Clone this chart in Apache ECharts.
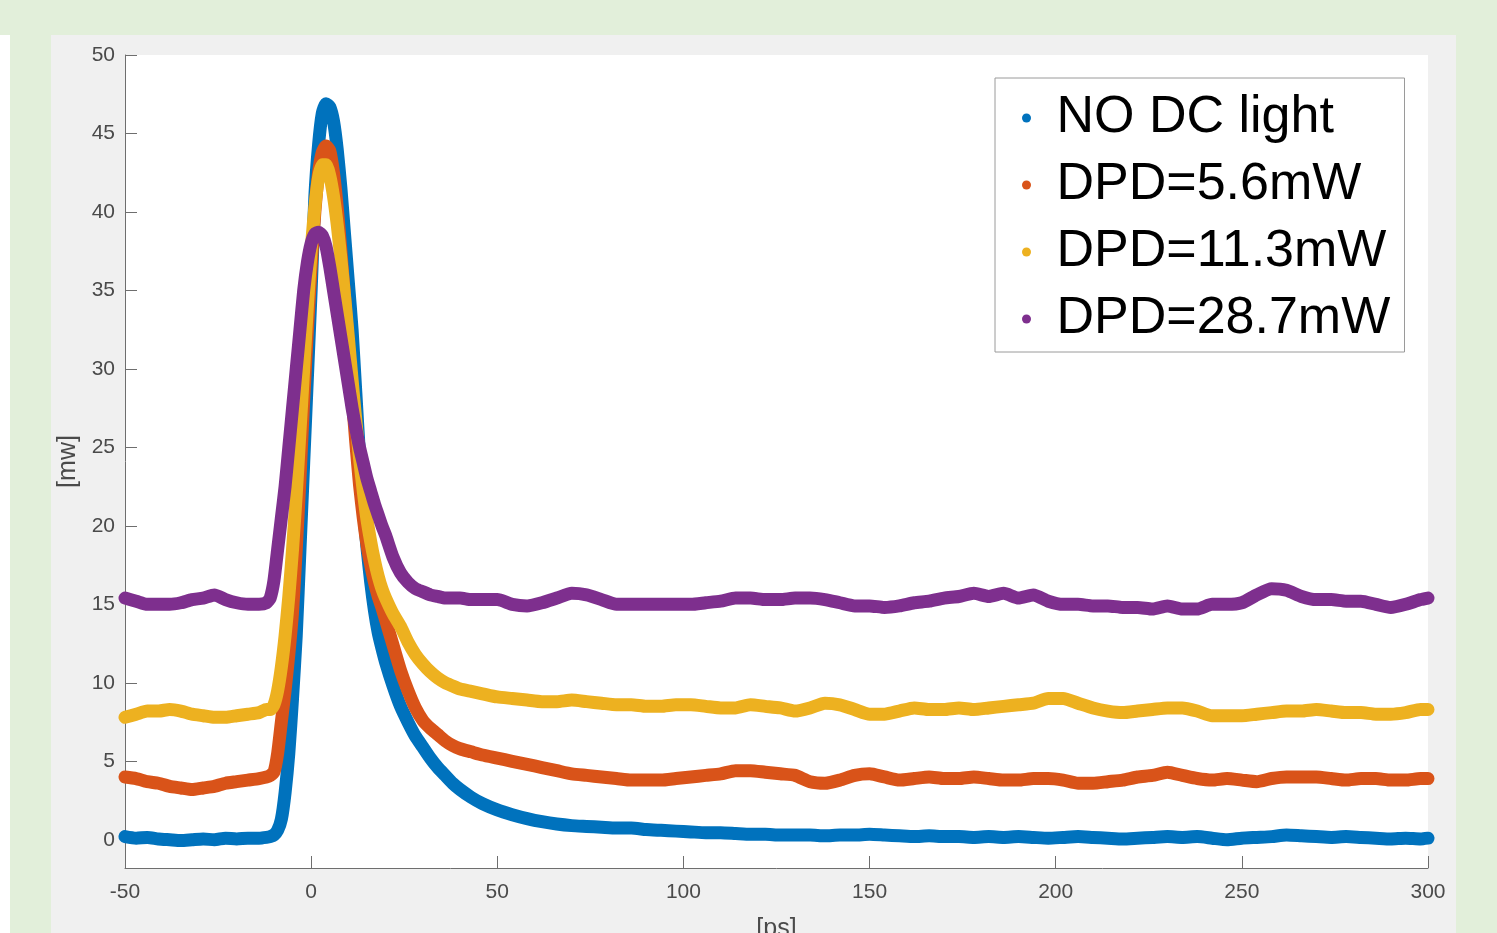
<!DOCTYPE html>
<html>
<head>
<meta charset="utf-8">
<script src="https://cdn.jsdelivr.net/npm/echarts@6/dist/echarts.min.js"></script>
<style>
  html, body { margin: 0; padding: 0; background: #e2efda; }
  #strip { position: absolute; left: 0; top: 35px; width: 10px; height: 898px; background: #ffffff; }
  #panel { position: absolute; left: 51px; top: 35px; width: 1405px; height: 898px; background: #f0f0f0; }
  #chart { position: absolute; left: 0; top: 0; width: 1497px; height: 933px; }
</style>
</head>
<body>
<div id="strip"></div>
<div id="panel"></div>
<div id="chart"></div>
<script>
// Time axis (ps)
const timePs = [
  -50,-47,-44,-41,-38,-35,-32,-29,-26,-23,-20,-17,-14,
  -12,-11,-10,-9,-8,-7,-6,-5,-4,-3,-2,-1,0,1,2,3,4,5,6,7,8,9,10,11,12,13,14,15,16,17,18,19,20,
  22,24,26,28,30,32,34,36,38,40,43,46,
  50,54,58,62,66,70,74,78,82,86,90,94,98,102,106,110,114,118,122,126,130,134,138,142,146,150,
  154,158,162,166,170,174,178,182,186,190,194,198,202,206,210,214,218,222,226,230,234,238,242,246,
  250,254,258,262,266,270,274,278,282,286,290,294,298,300
];

const seriesNames = ['NO DC light', 'DPD=5.6mW', 'DPD=11.3mW', 'DPD=28.7mW'];

// Power (mW)
const noDcLight = [
  0.2,0.1,0.15,0.05,0.0,-0.05,0.0,0.05,0.0,0.1,0.05,0.1,0.1,
  0.15,0.2,0.3,0.6,1.3,3.0,5.5,9.0,13,18.5,24,29.5,35,41,44.3,46.3,46.9,46.7,45.8,44,41.5,38.5,35.5,32.5,28.5,24.5,21.2,18.6,16.4,14.6,13.2,12.2,11.3,
  9.8,8.5,7.5,6.6,5.9,5.2,4.6,4.1,3.6,3.2,2.7,2.3,
  1.9,1.6,1.35,1.15,1.0,0.9,0.85,0.8,0.75,0.75,0.65,0.6,0.55,0.5,0.45,0.45,0.4,0.35,0.35,0.3,0.3,0.3,0.25,0.3,0.3,0.35,
  0.3,0.25,0.2,0.25,0.2,0.2,0.15,0.2,0.15,0.2,0.15,0.1,0.15,0.2,0.15,0.1,0.05,0.1,0.15,0.2,0.15,0.2,0.1,0.0,
  0.1,0.15,0.2,0.3,0.25,0.2,0.15,0.2,0.15,0.1,0.05,0.1,0.05,0.1
];
const dpd56 = [
  4.0,3.9,3.7,3.6,3.4,3.3,3.2,3.3,3.4,3.6,3.7,3.8,3.9,
  4.0,4.1,4.3,5.5,7.5,9.5,11.8,14.5,18.5,23,28,32.5,36.5,40,42.5,43.8,44.2,43.9,42.5,40.3,37.5,34.5,31.5,28.3,25.3,22.6,20.5,18.8,17.5,16.4,15.5,14.8,14.0,
  12.4,10.8,9.5,8.4,7.6,7.1,6.7,6.3,6.0,5.8,5.6,5.4,
  5.2,5.0,4.8,4.6,4.4,4.2,4.1,4.0,3.9,3.8,3.8,3.8,3.9,4.0,4.1,4.2,4.4,4.4,4.3,4.2,4.1,3.7,3.6,3.8,4.1,4.2,
  4.0,3.8,3.9,4.0,3.9,3.9,4.0,3.9,3.8,3.8,3.9,3.9,3.8,3.6,3.6,3.7,3.8,4.0,4.1,4.3,4.1,3.9,3.8,3.9,
  3.8,3.7,3.9,4.0,4.0,4.0,3.9,3.8,3.9,3.9,3.8,3.8,3.9,3.9
];
const dpd113 = [
  7.8,8.0,8.2,8.2,8.3,8.2,8.0,7.9,7.8,7.8,7.9,8.0,8.1,
  8.3,8.3,8.6,9.5,11,13,15.5,18.5,22,26,30,34,37.5,40.3,42.2,43.0,43.0,42.3,41,39.2,37,34.6,32,29.3,26.7,24.3,22.2,20.4,19.0,17.8,16.8,16.0,15.4,
  14.4,13.6,12.6,11.8,11.2,10.7,10.3,10.0,9.8,9.6,9.45,9.3,
  9.1,9.0,8.9,8.8,8.8,8.9,8.8,8.7,8.6,8.6,8.5,8.5,8.6,8.6,8.5,8.4,8.4,8.6,8.5,8.4,8.2,8.4,8.7,8.6,8.3,8.0,
  8.0,8.2,8.4,8.3,8.3,8.4,8.3,8.4,8.5,8.6,8.7,9.0,9.0,8.7,8.4,8.2,8.1,8.2,8.3,8.4,8.4,8.2,7.9,7.9,
  7.9,8.0,8.1,8.2,8.2,8.3,8.2,8.1,8.1,8.0,8.0,8.1,8.3,8.3
];
const dpd287 = [
  15.4,15.2,15.0,15.0,15.0,15.1,15.3,15.4,15.6,15.3,15.1,15.0,15.0,
  15.1,15.4,16.5,18.5,20.5,22.5,25,27.5,30,32.5,35,36.8,38,38.6,38.7,38.5,37.8,36.5,35,33.5,32,30.5,29,27.5,26.2,25,24,23,22.2,21.4,20.7,20,19.4,
  18.0,17.0,16.4,16.0,15.8,15.6,15.5,15.4,15.4,15.4,15.3,15.3,
  15.3,15.0,14.9,15.1,15.4,15.7,15.6,15.3,15.0,15.0,15.0,15.0,15.0,15.0,15.1,15.2,15.4,15.4,15.3,15.3,15.4,15.4,15.3,15.1,14.9,14.9,
  14.8,14.9,15.1,15.2,15.4,15.5,15.7,15.5,15.7,15.4,15.6,15.2,15.0,15.0,14.9,14.9,14.8,14.8,14.7,14.9,14.7,14.7,15.0,15.0,
  15.1,15.6,16.0,15.9,15.5,15.3,15.3,15.2,15.2,15.0,14.8,15.0,15.3,15.4
];

const xTickValues = [-50, 0, 50, 100, 150, 200, 250, 300];
const yTickValues = [0, 5, 10, 15, 20, 25, 30, 35, 40, 45, 50];

const seriesValues = [noDcLight, dpd56, dpd113, dpd287];
const colors = ['#0072BD', '#D95319', '#EDB120', '#7E2F8E'];

const chart = echarts.init(document.getElementById('chart'), null, { renderer: 'canvas' });
const fontFam = '"Liberation Sans", Arial, Helvetica, sans-serif';
const axisColor = '#6e6e6e';
const labelColor = '#4a4a4a';

chart.setOption({
  animation: false,
  backgroundColor: 'transparent',
  textStyle: { fontFamily: fontFam },
  color: colors,
  grid: {
    left: 125, right: 69, top: 55, bottom: 65,
    outerBoundsMode: 'none',
    containLabel: false,
    show: true, backgroundColor: '#ffffff', borderWidth: 0
  },
  legend: {
    data: seriesNames,
    orient: 'vertical',
    left: 995, top: 78,
    icon: 'circle',
    itemWidth: 50, itemHeight: 9,
    itemGap: 7,
    padding: [10, 8, 3, 27],
    backgroundColor: '#ffffff',
    borderColor: '#9a9a9a',
    borderWidth: 1,
    selectedMode: false,
    textStyle: { fontSize: 52, lineHeight: 60, color: '#000000', fontFamily: fontFam, width: 340 }
  },
  xAxis: {
    type: 'value',
    min: -50, max: 300, interval: 50,
    name: '[ps]', nameLocation: 'middle', nameGap: 49,
    nameTextStyle: { fontSize: 25, color: labelColor },
    axisLine: { show: true, onZero: false, lineStyle: { color: axisColor, width: 1 } },
    axisTick: { show: true, inside: true, length: 12, lineStyle: { color: axisColor } },
    axisLabel: { fontSize: 21, color: labelColor, margin: 14, customValues: xTickValues },
    splitLine: { show: false }
  },
  yAxis: {
    type: 'value',
    min: -1.8, max: 50,
    name: '[mw]', nameLocation: 'middle', nameGap: 43,
    nameTextStyle: { fontSize: 25, color: labelColor },
    axisLine: { show: true, onZero: false, lineStyle: { color: axisColor, width: 1 } },
    axisTick: { show: true, inside: true, length: 12, lineStyle: { color: axisColor }, customValues: yTickValues },
    axisLabel: { fontSize: 21, color: labelColor, margin: 10, customValues: yTickValues },
    splitLine: { show: false }
  },
  series: seriesNames.map((name, k) => ({
    name: name,
    type: 'line',
    showSymbol: false,
    symbol: 'circle',
    smooth: 0.2,
    lineStyle: { width: 13, color: colors[k], cap: 'round', join: 'round' },
    itemStyle: { color: colors[k] },
    emphasis: { disabled: true },
    data: timePs.map((t, i) => [t, seriesValues[k][i]])
  }))
});
</script>
</body>
</html>
